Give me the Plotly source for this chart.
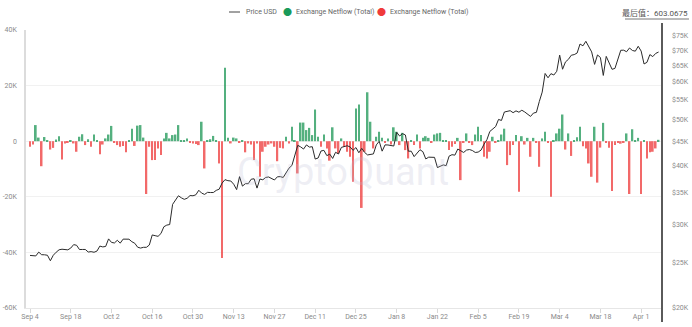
import math
import pandas as pd
import plotly.graph_objects as go

# ---------------- data (values in thousands) ----------------
start_date = "2023-09-04"

netflow_k = [
    -2.0, -1.2, 5.8, 1.3, -9.0, 1.5, 0.4, -3.0, -2.4, 0.6,
    1.8, -6.6, -0.8, -0.3, 0.2, -0.8, -3.8, 1.6, 2.5, -1.4,
    0.7, -2.0, 2.4, 0.3, -4.7, -1.2, 1.0, 2.4, 5.5, -0.6,
    -1.4, -2.0, -1.7, -4.0, 0.4, 4.5, -1.7, 5.6, 5.8, 1.3,
    -19.0, -2.0, -6.8, -6.8, -2.6, -5.0, 1.0, 3.0, 1.0, 2.2,
    2.4, 5.8, 0.2, 0.3, 1.0, -0.6, -0.8, -1.0, -1.4, 7.0,
    -9.8, 0.3, 0.7, 1.9, 0.3, -8.0, -42.0, 26.4, 1.2, -0.8,
    1.3, 1.0, -0.5, 0.2, -4.0, -0.8, -1.2, -6.8, -0.8, -12.8,
    -3.8, -2.0, -1.2, -0.8, -2.0, -7.2, -2.4, -2.6, 1.6, -0.8,
    5.2, 0.3, -11.6, 6.7, 6.7, 4.0, 4.8, 2.2, 11.4, 1.6,
    -2.0, 2.4, -2.6, -7.0, 5.0, -2.6, -4.4, 1.0, -2.0, -3.8,
    -5.6, -14.6, 11.8, 13.2, -24.0, -3.8, 17.6, 7.0, -2.6, 1.6,
    3.4, 1.2, -0.6, 1.0, -1.2, 5.0, 3.4, -1.4, 3.0, -3.2,
    -6.2, 0.4, -1.4, 2.4, -2.6, 1.2, 1.8, 1.2, -0.5, 2.4,
    2.8, 3.0, 0.4, 0.3, -3.2, -2.0, -1.0, 1.2, -14.0, -0.6,
    2.8, -0.6, -1.4, 2.4, 5.2, 2.2, -5.6, -6.2, -3.8, 1.6,
    -0.5, 0.4, 2.4, 4.5, -8.6, -5.0, -1.4, 2.2, -18.2, 1.8,
    -1.2, 1.2, -5.6, 1.2, -0.4, -9.2, 1.0, 3.4, -0.6, -20.0,
    0.3, 2.8, 4.5, 9.6, -3.0, 2.8, -5.3, 0.3, 1.4, 5.2,
    -1.8, -2.6, -8.0, -12.8, 5.2, -14.9, -2.3, 6.6, -0.6, -2.4,
    -17.9, -1.4, -0.5, -0.9, -0.4, 2.8, -19.0, 4.3, 0.3, 1.2,
    -19.0, 0.3, -6.2, -4.0, -3.8, -2.6, 0.5,
]

price_k = [
    25.82, 25.79, 25.76, 26.24, 25.91, 25.90, 25.84, 25.16, 25.84, 26.23,
    26.54, 26.61, 26.57, 26.53, 26.76, 27.21, 27.13, 26.57, 26.58, 26.58,
    26.25, 26.30, 26.22, 26.37, 27.02, 26.91, 26.97,
    27.98, 27.51, 27.43, 27.79, 27.41, 27.95, 27.97, 27.94, 27.60, 27.39,
    26.87, 26.76, 26.86, 26.86, 27.16, 28.52, 28.42, 28.33, 28.72, 29.68,
    29.92, 30.00, 33.09, 33.90, 34.50, 34.16, 33.91, 34.09, 34.54, 34.50,
    34.67,
    35.44, 34.94, 34.73, 35.08, 35.05, 35.05, 35.42, 35.62, 36.69, 37.31,
    37.13, 37.07, 36.49, 35.55, 37.86, 36.16, 36.59, 36.59, 37.39, 37.47,
    35.81, 37.43, 37.29, 37.72, 37.80, 37.48, 37.25, 37.83, 37.86, 37.71,
    38.69, 39.46, 39.98, 41.98, 44.08, 43.75, 43.29, 44.17, 43.71, 43.79,
    41.24, 41.45, 42.89, 43.02, 41.93, 42.24, 41.36, 42.62, 42.27, 43.65,
    43.86, 43.99, 43.74, 43.02, 43.61, 42.52, 43.44, 42.58, 42.07, 42.14,
    42.28,
    44.18, 44.96, 42.85, 44.18, 44.16, 43.97, 43.93, 46.97, 46.12, 46.66,
    46.35, 42.85, 42.84, 41.73, 42.51, 43.15, 42.74, 41.26, 41.62, 41.66,
    41.58, 39.57, 39.89, 40.08, 39.94, 41.82, 42.12, 42.03, 43.30, 42.94,
    42.58,
    43.08, 43.19, 42.99, 42.58, 42.66, 43.08, 44.32, 45.30, 47.15, 47.77,
    48.29, 50.00, 49.74, 51.83, 51.94, 52.16, 51.66, 52.12, 51.78, 52.28,
    51.84, 51.30, 50.73, 51.57, 51.73, 54.52, 57.09, 62.50, 61.20,
    62.44, 62.03, 63.17, 68.33, 63.80, 66.11, 66.93, 68.30, 68.50, 69.02,
    72.12, 71.48, 73.08, 71.40, 69.40, 65.32, 68.39, 67.55, 61.91, 67.91,
    65.49, 63.78, 64.06, 67.23, 69.96, 69.99, 69.46, 70.74, 69.89, 69.65,
    71.33,
    69.70, 65.45, 65.98, 68.51, 67.84, 68.90, 69.36,
]

left_tick_vals = [40, 20, 0, -20, -40, -60]
left_tick_text = ["40K", "20K", "0", "-20K", "-40K", "-60K"]
right_tick_vals = [20, 25, 30, 35, 40, 45, 50, 55, 60, 65, 70, 75]
right_tick_text = ["$%dK" % v for v in right_tick_vals]
last_value_text = "最后值：603.0675"
series_names = ["Price USD", "Exchange Netflow (Total)", "Exchange Netflow (Total)"]

dates = pd.date_range(start_date, periods=len(netflow_k), freq="D")
pos_vals = [v if v > 0 else None for v in netflow_k]
neg_vals = [v if v < 0 else None for v in netflow_k]

# ---------------- layout geometry ----------------
W, H = 692, 327
ML, MR, MT, MB = 26, 30, 30, 19
PW = W - ML - MR
PH = H - MT - MB


def px_x(px):
    return (px - ML) / PW


def px_y(py):
    return 1 - (py - MT) / PH


GREEN = "#2a9d60"
RED = "#f04444"
FONT = "Roboto, 'Noto Sans CJK SC', sans-serif"

fig = go.Figure()
fig.add_trace(go.Bar(x=dates, y=pos_vals, marker_color=GREEN, opacity=0.8,
                     marker_line_width=0, name=series_names[1], showlegend=False))
fig.add_trace(go.Bar(x=dates, y=neg_vals, marker_color=RED, opacity=0.8,
                     marker_line_width=0, name=series_names[2], showlegend=False))
fig.add_trace(go.Scatter(x=dates, y=price_k, mode="lines", yaxis="y2",
                         line=dict(color="#2b2b2b", width=1), name=series_names[0],
                         showlegend=False))

x0 = pd.Timestamp(start_date) - pd.Timedelta(hours=33)
x1 = pd.Timestamp(start_date) + pd.Timedelta(hours=int(217.2 * 24))

fig.update_layout(
    width=W, height=H,
    margin=dict(l=ML, r=MR, t=MT, b=MB, pad=0, autoexpand=False),
    paper_bgcolor="white", plot_bgcolor="white",
    font=dict(family=FONT, size=7, color="#8a8a8a"),
    barmode="relative", bargap=0.42,
    showlegend=False,
    xaxis=dict(
        type="date", range=[x0, x1], automargin=False,
        tick0=start_date, dtick=14 * 86400000, tickformat="%b %-d",
        ticks="outside", ticklen=4, tickcolor="#d8d8d8",
        ticklabelstandoff=-2,
        showgrid=False, showline=True, linecolor="#e6e6e6", linewidth=1,
        tickfont=dict(size=7, color="#8a8a8a"), zeroline=False,
    ),
    yaxis=dict(
        range=[-60, 40], tickvals=left_tick_vals, ticktext=left_tick_text,
        automargin=False,
        showgrid=True, gridcolor="#f1f1f1", gridwidth=1,
        zeroline=False, showline=True, linecolor="#dcdcdc", linewidth=1.5,
        ticks="", ticklabelstandoff=6,
        tickfont=dict(size=7, color="#8a8a8a"),
    ),
    yaxis2=dict(
        type="log", overlaying="y", side="right", automargin=False,
        range=[math.log10(20), math.log10(77.2)],
        tickvals=right_tick_vals, ticktext=right_tick_text,
        showgrid=False, zeroline=False,
        showline=False,
        ticks="", ticklabelstandoff=9,
        tickfont=dict(size=7, color="#8a8a8a"),
    ),
)

# right-hand range bar
fig.add_shape(type="line", xref="paper", yref="paper",
              x0=px_x(662), x1=px_x(662), y0=px_y(322), y1=px_y(23),
              line=dict(color="#5a5a5a", width=2))

# watermark
fig.add_annotation(text="CryptoQuant", xref="paper", yref="paper",
                   x=px_x(343), y=px_y(172), showarrow=False,
                   font=dict(size=38, color="rgba(190,190,212,0.25)", family=FONT))

# legend (manual)
ly = px_y(12)
fig.add_shape(type="line", xref="paper", yref="paper",
              x0=px_x(229), x1=px_x(240), y0=ly, y1=ly,
              line=dict(color="#444", width=1))
fig.add_annotation(text=series_names[0], xref="paper", yref="paper",
                   x=px_x(244), y=ly, xanchor="left", yanchor="middle",
                   showarrow=False, font=dict(size=7, color="#666"))
fig.add_annotation(text="●", xref="paper", yref="paper",
                   x=px_x(287), y=ly, xanchor="center", yanchor="middle",
                   showarrow=False, font=dict(size=9, color="#1a9a5a"))
fig.add_annotation(text=series_names[1], xref="paper", yref="paper",
                   x=px_x(294), y=ly, xanchor="left", yanchor="middle",
                   showarrow=False, font=dict(size=7, color="#666"))
fig.add_annotation(text="●", xref="paper", yref="paper",
                   x=px_x(381), y=ly, xanchor="center", yanchor="middle",
                   showarrow=False, font=dict(size=9, color="#f03a3a"))
fig.add_annotation(text=series_names[2], xref="paper", yref="paper",
                   x=px_x(388), y=ly, xanchor="left", yanchor="middle",
                   showarrow=False, font=dict(size=7, color="#666"))

# last value label with underline
fig.add_annotation(text=last_value_text, xref="paper", yref="paper",
                   x=px_x(690), y=px_y(13), xanchor="right", yanchor="middle",
                   showarrow=False, font=dict(size=8, color="#555"))
fig.add_shape(type="line", xref="paper", yref="paper", layer="above",
              x0=px_x(625), x1=px_x(689), y0=px_y(19), y1=px_y(19),
              line=dict(color="#777777", width=1))

fig.write_html("out.html")
